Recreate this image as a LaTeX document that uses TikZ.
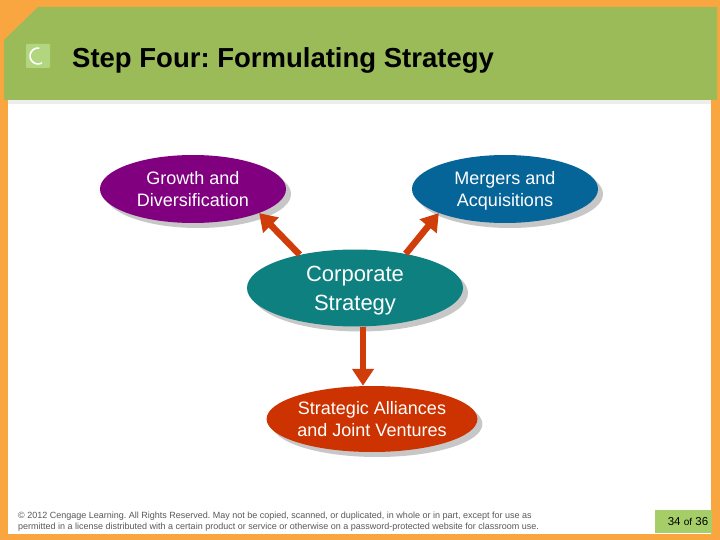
\documentclass[tikz,border=0pt]{standalone}
\usepackage{fontspec}
\setmainfont{Liberation Sans}
\frenchspacing
\usetikzlibrary{shapes.geometric, arrows.meta, shadows}

\definecolor{bgorange}{RGB}{250,166,64}
\definecolor{hdrgreen}{RGB}{155,187,89}
\definecolor{icongreen}{RGB}{178,214,128}
\definecolor{pagegreen}{RGB}{166,206,104}
\definecolor{growthpurple}{RGB}{128,0,128}
\definecolor{mergerblue}{RGB}{5,100,152}
\definecolor{corpteal}{RGB}{14,128,128}
\definecolor{allired}{RGB}{204,51,0}
\definecolor{arrowred}{RGB}{208,60,10}

\begin{document}
\begin{tikzpicture}[x=1pt, y=-1pt, >={Triangle[length=17pt, width=21pt]},
	stratnode/.style={ellipse, inner sep=0pt, text=white, align=center, text depth=0pt,
		font=\fontsize{18}{22}\selectfont,
		drop shadow={shadow xshift=5pt, shadow yshift=-5pt, fill=black!22, opacity=1}},
	bigarrow/.style={->, line width=6.5pt, draw=arrowred}]
				\useasboundingbox (0,0) rectangle (720,540);
				
				% Slide frame
				\fill[bgorange] (0,0) rectangle (720,540);
				\fill[hdrgreen] (4,40) -- (38,7) -- (717,7) -- (717,100) -- (4,100) -- cycle;
				\fill[white] (8,100) rectangle (711,534);
				\fill[black!7] (8,100) rectangle (711,104);
				\fill[icongreen, rounded corners=1pt] (26,44) rectangle (50,68);
				\draw[white, line width=1.6pt] (38,56) ++(-80:8) arc[start angle=-80, end angle=-300, radius=8];
				\node[anchor=base west, inner sep=0pt, font=\bfseries\fontsize{27.5}{31}\selectfont] (title) at (72,68) {Step Four: Formulating Strategy};
				
				% Strategy options
				\node[stratnode, fill=growthpurple, minimum width=186pt, minimum height=68pt] (growth) at (193,189) {Growth and\\Diversification};
				\node[stratnode, fill=mergerblue, minimum width=186pt, minimum height=68pt] (merger) at (505,189) {Mergers and\\Acquisitions};
				\node[stratnode, fill=corpteal, minimum width=216pt, minimum height=77pt, font=\fontsize{22}{29}\selectfont] (corp) at (355,288) {Corporate\\Strategy};
				\node[stratnode, fill=allired, minimum width=176pt, minimum height=66pt] (alli) at (372,419) {Strategic Alliances\\and Joint Ventures};
				
				\draw[bigarrow] (corp.149) -- (growth.-20);
				\draw[bigarrow] (corp.34) -- (merger.200);
				\draw[bigarrow] ([xshift=8pt]corp.south) -- ([xshift=-9pt]alli.north);
				
				% Footer
				\node[anchor=north west, align=left, inner sep=0pt, text=black!65, font=\fontsize{9}{11}\selectfont] (legal) at (18,512) {\textcopyright{} 2012 Cengage Learning. All Rights Reserved. May not be copied, scanned, or duplicated, in whole or in part, except for use as\\permitted in a license distributed with a certain product or service or otherwise on a password-protected website for classroom use.};
				\node[fill=pagegreen, minimum width=57pt, minimum height=23pt, inner sep=0pt, font=\fontsize{11.5}{13}\selectfont] (page) at (683.5,521.5) {\hspace{9pt}34 {\fontsize{10}{12}\selectfont of} 36};
			\end{tikzpicture}
\end{document}
